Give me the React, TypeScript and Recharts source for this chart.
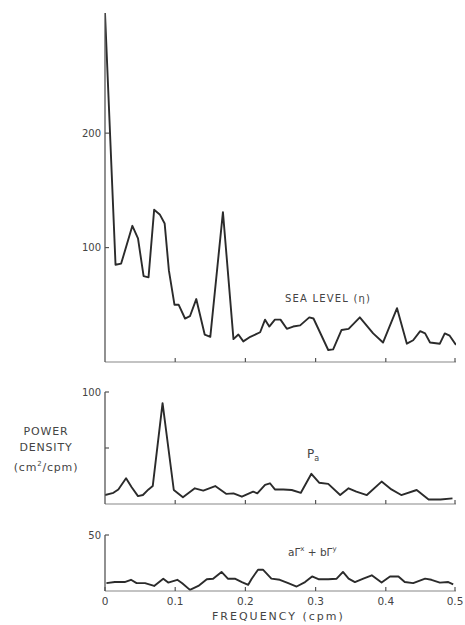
import React from "react";
import { LineChart, Line, XAxis, YAxis } from "recharts";

// Sea level spectrum (eta)
const seaFreq = [0, 0.015, 0.023, 0.039, 0.047, 0.055, 0.062, 0.07, 0.078, 0.085, 0.091, 0.099, 0.105, 0.114, 0.121, 0.13, 0.142, 0.15, 0.168, 0.183, 0.19, 0.197, 0.207, 0.221, 0.228, 0.234, 0.242, 0.25, 0.259, 0.268, 0.278, 0.291, 0.297, 0.318, 0.325, 0.337, 0.347, 0.363, 0.382, 0.396, 0.416, 0.43, 0.439, 0.449, 0.456, 0.463, 0.477, 0.484, 0.491, 0.5];
const seaPower = [305, 85, 86, 119, 108, 75, 74, 133, 129, 121, 80, 50, 50, 38, 40, 55, 24, 22, 131, 20, 24, 18, 22, 26, 37, 31, 37, 37, 29, 31, 32, 39, 38, 10.5, 11, 28, 29, 39, 25, 17, 47, 16, 19, 27, 25, 17, 16, 25, 23, 15];

// Atmospheric pressure spectrum (Pa)
const paFreq = [0, 0.012, 0.019, 0.03, 0.038, 0.047, 0.054, 0.062, 0.068, 0.082, 0.098, 0.111, 0.128, 0.14, 0.157, 0.173, 0.183, 0.195, 0.211, 0.217, 0.228, 0.235, 0.242, 0.254, 0.266, 0.279, 0.294, 0.305, 0.318, 0.335, 0.347, 0.358, 0.373, 0.394, 0.408, 0.422, 0.444, 0.461, 0.478, 0.495];
const paPower = [8, 10, 13, 23, 15, 7, 8, 13, 16, 90, 12.5, 6, 14, 12, 16, 9, 9.5, 6.5, 11, 9.5, 17, 18.5, 13, 13, 12.5, 10, 27, 19, 18, 8, 14, 11, 8, 20, 13, 8, 12.5, 4, 4, 5];

// Wind stress spectrum (a*Tx + b*Ty)
const windFreq = [0.002, 0.014, 0.028, 0.037, 0.045, 0.057, 0.07, 0.083, 0.09, 0.103, 0.11, 0.121, 0.133, 0.145, 0.154, 0.166, 0.175, 0.185, 0.195, 0.204, 0.209, 0.218, 0.225, 0.237, 0.249, 0.261, 0.273, 0.285, 0.295, 0.304, 0.318, 0.33, 0.339, 0.347, 0.356, 0.368, 0.38, 0.394, 0.406, 0.418, 0.427, 0.439, 0.456, 0.465, 0.477, 0.489, 0.496];
const windPower = [7, 8, 8, 10, 7, 7, 4.5, 11, 7.5, 10, 7, 1, 4.5, 10.5, 11, 17, 11, 11, 8, 5.5, 11, 19, 19, 11, 10, 7, 4, 8, 13, 10.5, 10.5, 11, 17, 11, 8, 11, 14, 7.5, 13, 13, 8, 7, 11, 10, 7.5, 8, 6];

const freqTicks = [0.1, 0.2, 0.3, 0.4, 0.5];
const bottomFreqTicks = [0, 0.1, 0.2, 0.3, 0.4, 0.5];
const seaTicks = [100, 200];
const paTicks = [50, 100];
const paLabeled = [100];
const windTicks = [50];

const toRows = (f: number[], v: number[]) => f.map((x, i) => ({ f: x, v: v[i] }));

const seaRows = toRows(seaFreq, seaPower);
const paRows = toRows(paFreq, paPower);
const windRows = toRows(windFreq, windPower);

const INK = "#2b2b2b";
const FONT = "'DejaVu Sans', sans-serif";

const XTick = (showLabel: boolean) => (props: any) => {
  const { x, y, payload } = props;
  return (
    <g>
      <line x1={x} x2={x} y1={y} y2={y - 4} stroke="#555" strokeWidth={1.2} />
      {showLabel && (
        <text x={x} y={y + 14} textAnchor="middle" fontSize={10.5} fontFamily={FONT} fill="#444">
          {payload.value === 0 ? "0" : String(payload.value)}
        </text>
      )}
    </g>
  );
};

const YTick = (labeled: number[] | null) => (props: any) => {
  const { x, y, payload } = props;
  const show = labeled === null || labeled.includes(payload.value);
  return (
    <g>
      <line x1={x} x2={x + 4} y1={y} y2={y} stroke="#555" strokeWidth={1.2} />
      {show && (
        <text x={x - 4} y={y} dy={3.5} textAnchor="end" fontSize={10} fontFamily={FONT} fill="#444">
          {payload.value}
        </text>
      )}
    </g>
  );
};

type PanelProps = {
  rows: { f: number; v: number }[];
  top: number;
  height: number;
  marginTop: number;
  xHeight: number;
  yMax: number;
  yTicks: number[];
  yLabeled: number[] | null;
  xTicks: number[];
  xLabels: boolean;
};

const Panel = ({ rows, top, height, marginTop, xHeight, yMax, yTicks, yLabeled, xTicks, xLabels }: PanelProps) => (
  <div style={{ position: "absolute", left: 0, top }}>
    <LineChart width={465} height={height} data={rows} margin={{ top: marginTop, right: 9, bottom: 0, left: 0 }}>
      <XAxis
        dataKey="f"
        type="number"
        domain={[0, 0.5]}
        ticks={xTicks}
        height={xHeight}
        tickSize={0}
        tickMargin={0}
        tickLine={false}
        tick={XTick(xLabels)}
        axisLine={{ stroke: "#888", strokeWidth: 1.2 }}
        allowDataOverflow
      />
      <YAxis
        type="number"
        domain={[0, yMax]}
        ticks={yTicks}
        width={105}
        tickSize={0}
        tickMargin={0}
        tickLine={false}
        tick={YTick(yLabeled)}
        axisLine={{ stroke: "#555", strokeWidth: 1.3 }}
        allowDataOverflow
      />
      <Line
        type="linear"
        dataKey="v"
        stroke={INK}
        strokeWidth={1.9}
        strokeLinejoin="round"
        dot={false}
        isAnimationActive={false}
      />
    </LineChart>
  </div>
);

const textStyle: React.CSSProperties = {
  position: "absolute",
  fontFamily: FONT,
  color: "#444",
  whiteSpace: "nowrap",
  lineHeight: 1,
};

export default function App() {
  return (
    <div style={{ position: "absolute", left: 0, top: 0, width: 465, height: 625, background: "#fff", overflow: "hidden" }}>
      <Panel rows={seaRows} top={0} height={380} marginTop={13} xHeight={18} yMax={305} yTicks={seaTicks} yLabeled={null} xTicks={freqTicks} xLabels={false} />
      <Panel rows={paRows} top={380} height={135} marginTop={12} xHeight={11} yMax={100} yTicks={paTicks} yLabeled={paLabeled} xTicks={freqTicks} xLabels={false} />
      <Panel rows={windRows} top={515} height={110} marginTop={20} xHeight={34} yMax={50} yTicks={windTicks} yLabeled={null} xTicks={bottomFreqTicks} xLabels={true} />

      <div style={{ ...textStyle, left: 285, top: 294, fontSize: 10, letterSpacing: 1.2 }}>SEA LEVEL (η)</div>

      <div style={{ ...textStyle, left: 0, width: 92, top: 424, fontSize: 11, letterSpacing: 0.8, textAlign: "center", lineHeight: "16px" }}>
        POWER
        <br />
        DENSITY
        <br />
        (cm<sup style={{ fontSize: 7 }}>2</sup>/cpm)
      </div>

      <div style={{ ...textStyle, left: 307, top: 448, fontSize: 12 }}>
        P<sub style={{ fontSize: 8 }}>a</sub>
      </div>

      <div style={{ ...textStyle, left: 288, top: 546, fontSize: 10.5 }}>
        aΓ<sup style={{ fontSize: 7 }}>x</sup> + bΓ<sup style={{ fontSize: 7 }}>y</sup>
      </div>

      <div style={{ ...textStyle, left: 212, top: 611, fontSize: 11, letterSpacing: 2 }}>FREQUENCY (cpm)</div>
    </div>
  );
}
